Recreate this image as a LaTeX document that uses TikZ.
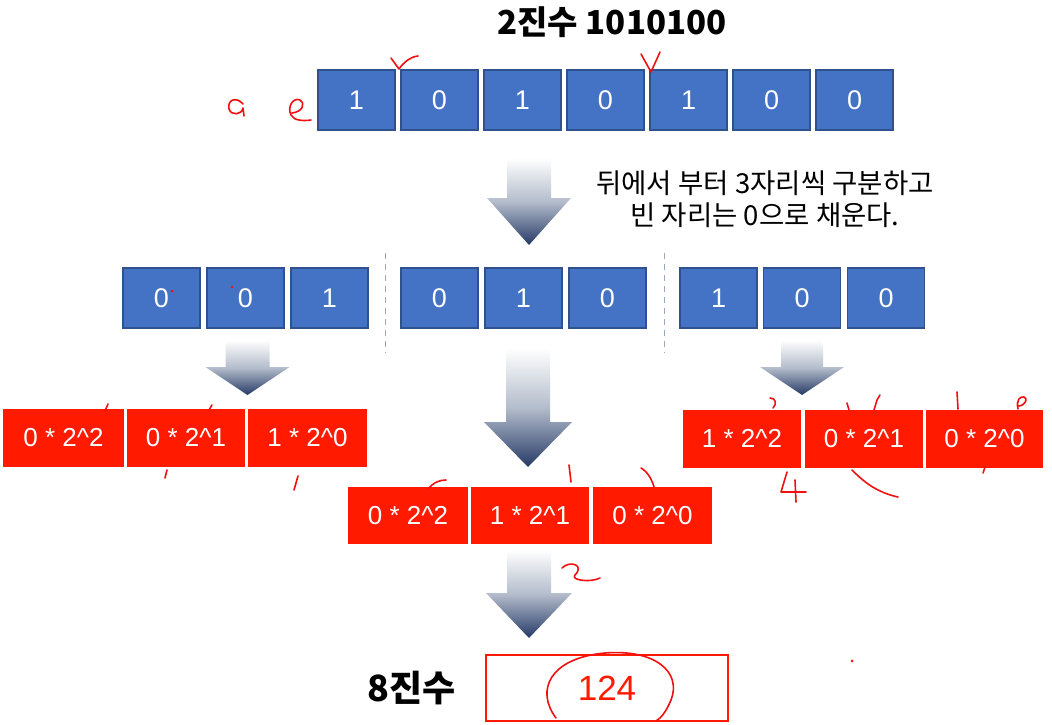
\documentclass[tikz,border=0pt]{standalone}
\usepackage{fontspec}
\setmainfont{Liberation Sans}
\newfontfamily\kr{Noto Sans CJK KR}
\definecolor{boxblue}{HTML}{4472C4}
\definecolor{boxedge}{HTML}{2F528F}
\definecolor{boxred}{HTML}{FF1A00}
\definecolor{arrowdark}{HTML}{263A66}
\definecolor{arrowmid}{HTML}{B4BDCC}
\definecolor{sepgray}{HTML}{9AA8C0}
\definecolor{pen}{HTML}{F01010}
\tikzset{
  bitbox/.style={draw=boxedge,line width=1.4pt,fill=boxblue,minimum width=77pt,minimum height=60pt,text=white,font=\fontsize{27}{27}\selectfont,inner sep=0pt},
  termbox/.style={fill=boxred,minimum width=118pt,minimum height=58pt,text=white,font=\fontsize{26}{26}\selectfont,inner sep=0pt},
  sepline/.style={draw=sepgray,dashed,line width=0.9pt,dash pattern=on 6pt off 5pt},
  pen/.style={draw=pen,line width=1.6pt,line cap=round,line join=round},
  gshade/.style={top color=white,bottom color=arrowdark,middle color=arrowmid}
}
% block arrow: cx, top, headstart, tip, shaft half width, head half width
\newcommand\blockarrow[6]{%
  \shade[gshade] (#1-#5,#2) -- (#1+#5,#2) -- (#1+#5,#3) -- (#1+#6,#3) -- (#1,#4) -- (#1-#6,#3) -- (#1-#5,#3) -- cycle;}
\begin{document}
\begin{tikzpicture}[x=1pt,y=-1pt]
\useasboundingbox (0,0) rectangle (1052,725);
% title
\node[font=\kr\bfseries\fontsize{33}{33}\selectfont] (title) at (612,22) {2진수 1010100};
% top row
\foreach \b [count=\i from 0] in {1,0,1,0,1,0,0}
  \node[bitbox] (t\i) at (356.5+83*\i,100) {\b};
% first arrow
\blockarrow{529}{158}{198}{245}{22}{42}
\node[font=\kr\fontsize{27.5}{32}\selectfont,align=center] (note) at (765,199) {뒤에서 부터 3자리씩 구분하고\\빈 자리는 0으로 채운다.};
% second row
\node[bitbox] (a1) at (161.5,298) {0};
\node[bitbox] (a2) at (245.5,298) {0};
\node[bitbox] (a3) at (329.5,298) {1};
\node[bitbox] (b1) at (439.5,298) {0};
\node[bitbox] (b2) at (523.5,298) {1};
\node[bitbox] (b3) at (607.5,298) {0};
\node[bitbox] (c1) at (718.5,298) {1};
\node[bitbox] (c2) at (802,298) {0};
\node[bitbox] (c3) at (886,298) {0};
\coordinate (s1t) at (385,253); \coordinate (s1b) at (385,353);
\coordinate (s2t) at (664,253); \coordinate (s2b) at (664,353);
\draw[sepline] (s1t) -- (s1b);
\draw[sepline] (s2t) -- (s2b);
% arrows to terms
\blockarrow{247.5}{340}{367}{395}{22}{42}
\blockarrow{802}{340}{367}{395}{21}{42}
\blockarrow{528}{348}{422}{467}{22}{44}
% term rows
\node[termbox,minimum width=121pt] (la) at (63.5,438) {0 * 2\^{}2};
\node[termbox] (lb) at (186,438) {0 * 2\^{}1};
\node[termbox,minimum width=119pt] (lc) at (307.5,438) {1 * 2\^{}0};
\node[termbox,minimum width=120pt,minimum height=57pt] (ma) at (408,515.5) {0 * 2\^{}2};
\node[termbox,minimum height=57pt] (mb) at (530,515.5) {1 * 2\^{}1};
\node[termbox,minimum width=119pt,minimum height=57pt] (mc) at (652.5,515.5) {0 * 2\^{}0};
\node[termbox] (ra) at (742,438.5) {1 * 2\^{}2};
\node[termbox] (rb) at (864,438.5) {0 * 2\^{}1};
\node[termbox,minimum width=117pt] (rc) at (984.5,438.5) {0 * 2\^{}0};
% last arrow
\blockarrow{529}{550}{593}{638}{22}{43}
% result
\node[font=\kr\bfseries\fontsize{36}{36}\selectfont] (oct) at (412,688) {8진수};
\node[draw=boxred,line width=1.6pt,fill=white,minimum width=242pt,minimum height=66pt,text=boxred,font=\fontsize{35}{35}\selectfont,inner sep=0pt] (res) at (607,688) {124};
% handwritten marks
\draw[pen] (243,104) .. controls (236,96) and (227,100) .. (229,109) .. controls (231,116) and (242,115) .. (243,108) -- (244,116);
\draw[pen] (292,113) .. controls (302,112) and (306,104) .. (300,100) .. controls (293,97) and (287,107) .. (291,115) .. controls (294,121) and (304,121) .. (311,120);
\draw[pen] (391,58) -- (399,69) .. controls (404,62) and (410,57) .. (418,56);
\draw[pen] (641,54) -- (651,72) -- (660,52);
\fill[pen,fill=pen,draw=none] (172,291) circle (1.5pt);
\fill[pen,fill=pen,draw=none] (232,287) circle (1.3pt);
\draw[pen] (108,404) -- (105,411);
\draw[pen] (212,405) -- (209,410);
\draw[pen] (167,470) -- (165,478);
\draw[pen] (298,476) -- (294,490);
\draw[pen] (428,489) .. controls (434,482) and (440,480) .. (446,480);
\draw[pen] (569,465) -- (571,482);
\draw[pen] (641,468) .. controls (648,472) and (652,480) .. (654,487);
\draw[pen] (770,398) .. controls (776,398) and (777,404) .. (773,408);
\draw[pen] (847,403) -- (849,410);
\draw[pen] (874,410) -- (877,400) -- (880,395);
\draw[pen] (957,392) -- (958,409);
\draw[pen] (1018,409) .. controls (1016,400) and (1020,396) .. (1024,397) .. controls (1028,398) and (1026,405) .. (1019,406);
\draw[pen] (787,472) -- (781,492) -- (806,492);
\draw[pen] (795,480) -- (796,502);
\draw[pen] (852,470) .. controls (862,480) and (875,492) .. (898,497);
\draw[pen] (985,467) -- (983,473);
\draw[pen] (562,568) .. controls (570,560) and (585,565) .. (575,575) .. controls (570,580) and (590,583) .. (600,578);
\draw[pen] (556,718) .. controls (535,690) and (550,658) .. (605,653) .. controls (655,649) and (682,672) .. (671,700) .. controls (666,712) and (661,718) .. (656,721);
\fill[pen,fill=pen,draw=none] (852,661) circle (1.5pt);
\end{tikzpicture}
\end{document}
